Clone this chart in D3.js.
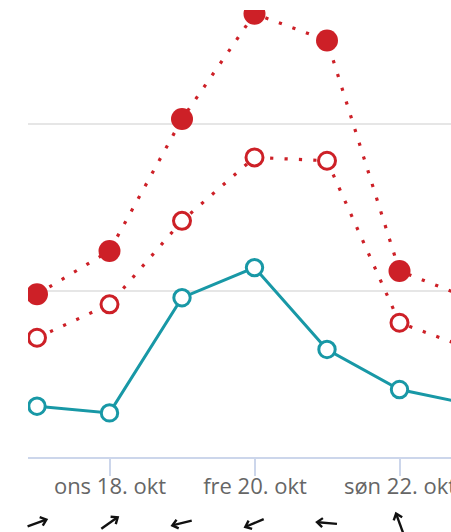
<!DOCTYPE html>
<html>
<head>
<meta charset="utf-8">
<script src="https://cdn.jsdelivr.net/npm/d3@7"></script>
<style>
  html, body { margin: 0; padding: 0; background: #fff; }
  svg { display: block; }
</style>
</head>
<body>
<svg id="chart" width="451" height="532"></svg>
<script>
// ---- data ----
const dates = ["2023-10-17", "2023-10-18", "2023-10-19", "2023-10-20", "2023-10-21", "2023-10-22", "2023-10-23"];
const maxTemp = [4.9, 6.2, 10.15, 13.3, 12.5, 5.6, 4.75];
const secondTemp = [3.6, 4.6, 7.1, 9.0, 8.9, 4.05, 3.25];
const lowSeries = [1.55, 1.35, 4.8, 5.7, 3.25, 2.05, 1.6];
const windFrom = [250, 235, 76, 67, 95, 160];
const gridValues = [0, 5, 10];
const tickDates = ["2023-10-18", "2023-10-20", "2023-10-22"];
const weekdays = ["søn", "man", "tir", "ons", "tor", "fre", "lør"];
const months = ["jan", "feb", "mar", "apr", "mai", "jun", "jul", "aug", "sep", "okt", "nov", "des"];

// ---- setup ----
const W = 451, H = 532;
const svg = d3.select("#chart");
const parse = d3.timeParse("%Y-%m-%d");
const dts = dates.map(parse);

const x = d3.scaleTime()
  .domain([parse("2023-10-17"), parse("2023-10-22")])
  .range([37, 399.5]);
const y = d3.scaleLinear().domain([0, 10]).range([458, 124]);

const plotLeft = 28, plotTop = 10, plotBottom = 458;

const red = "#cd2027";
const teal = "#1898a6";

svg.append("defs").append("clipPath").attr("id", "plotclip")
  .append("rect").attr("x", plotLeft).attr("y", plotTop)
  .attr("width", W - plotLeft).attr("height", plotBottom - plotTop + 20);

// gridlines
svg.append("g").selectAll("line").data(gridValues.filter(v => v !== 0)).join("line")
  .attr("x1", plotLeft).attr("x2", W)
  .attr("y1", d => y(d)).attr("y2", d => y(d))
  .attr("stroke", "#e6e6e6").attr("stroke-width", 2);

// x axis
const fmt = d => `${weekdays[d.getDay()]} ${d.getDate()}. ${months[d.getMonth()]}`;
const xAxis = d3.axisBottom(x)
  .tickValues(tickDates.map(parse))
  .tickFormat(fmt)
  .tickSizeInner(18).tickSizeOuter(0).tickPadding(2);
const ax = svg.append("g").attr("transform", `translate(0,${y(0)})`).call(xAxis);
ax.select(".domain").remove();
ax.insert("line", ":first-child")
  .attr("x1", plotLeft).attr("x2", W).attr("y1", 0).attr("y2", 0)
  .attr("stroke", "#ccd6eb").attr("stroke-width", 2);
ax.selectAll(".tick line").attr("stroke", "#ccd6eb").attr("stroke-width", 2);
ax.selectAll(".tick text")
  .attr("fill", "#666666")
  .style("font-family", "'Open Sans', sans-serif")
  .style("font-size", "22px");

// series
const plot = svg.append("g").attr("clip-path", "url(#plotclip)");
const line = d3.line().x((d, i) => x(dts[i])).y(d => y(d));

plot.append("path").datum(lowSeries).attr("d", line)
  .attr("fill", "none").attr("stroke", teal).attr("stroke-width", 3);
plot.append("path").datum(secondTemp).attr("d", line)
  .attr("fill", "none").attr("stroke", red).attr("stroke-width", 3.2)
  .attr("stroke-dasharray", "3.2 11.2");
plot.append("path").datum(maxTemp).attr("d", line)
  .attr("fill", "none").attr("stroke", red).attr("stroke-width", 3.2)
  .attr("stroke-dasharray", "3.2 11.2");

plot.append("g").selectAll("circle").data(lowSeries).join("circle")
  .attr("cx", (d, i) => x(dts[i])).attr("cy", d => y(d)).attr("r", 8.2)
  .attr("fill", "#fff").attr("stroke", teal).attr("stroke-width", 3);
plot.append("g").selectAll("circle").data(secondTemp).join("circle")
  .attr("cx", (d, i) => x(dts[i])).attr("cy", d => y(d)).attr("r", 8.5)
  .attr("fill", "#fff").attr("stroke", red).attr("stroke-width", 3);
plot.append("g").selectAll("circle").data(maxTemp).join("circle")
  .attr("cx", (d, i) => x(dts[i])).attr("cy", d => y(d)).attr("r", 11)
  .attr("fill", red);

// wind arrows
const arrows = svg.append("g");
windFrom.forEach((dir, i) => {
  const g = arrows.append("g")
    .attr("transform", `translate(${x(dts[i])},523) rotate(${dir + 180})`);
  g.append("line").attr("x1", 0).attr("y1", 10).attr("x2", 0).attr("y2", -9)
    .attr("stroke", "#111").attr("stroke-width", 2.4);
  g.append("path").attr("d", "M-4.5,-4.5 L0,-10 L4.5,-4.5")
    .attr("fill", "none").attr("stroke", "#111").attr("stroke-width", 2.4)
    .attr("stroke-linejoin", "miter");
});
</script>
</body>
</html>
